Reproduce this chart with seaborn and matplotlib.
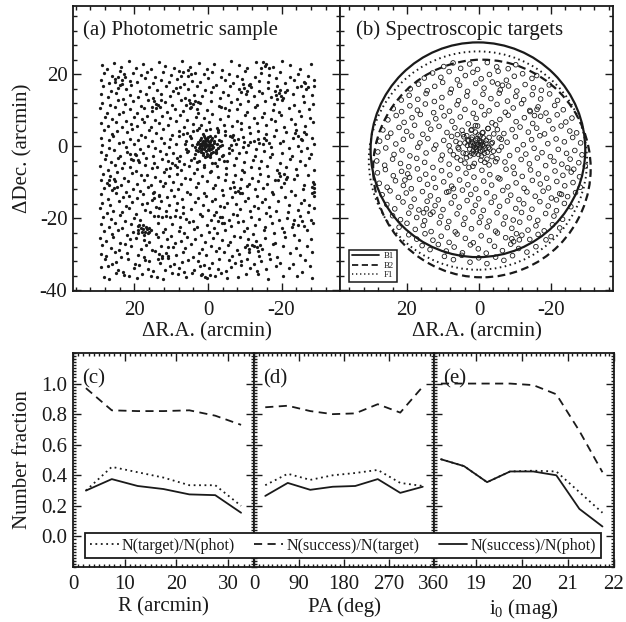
import numpy as np
import pandas as pd
import seaborn as sns
import matplotlib.pyplot as plt
import matplotlib.patches as mpatch
from matplotlib.lines import Line2D
from matplotlib.ticker import MultipleLocator, FormatStrFormatter

###############################
######### data ################
###############################

## (a) photometric sample, positions (arcmin)
phot_xy = [
    (28.4,-36.3),(26.9,-36.8),(25.1,-35.2),(22.8,-35.7),(21.6,-36.1),(19.3,-36.6),(17.9,-35.4),(15.4,-35.9),(13.8,-36.2),(12.1,-36.9),(9.7,-35.1),(8.2,-35.6),(5.9,-36.4),(4.4,-35.3),(1.8,-35.8),(0.3,-36.7),(-1.9,-36.0),(-3.6,-35.2),(-5.2,-36.5),(-8.1,-36.3),(-10.4,-35.6),(-13.7,-35.4),(-16.2,-36.8),(-20.5,-36.1),(-24.3,-35.9),(-28.2,-36.6),
    (29.0,-33.6),(27.3,-33.2),(24.6,-34.4),(23.1,-34.8),(20.2,-33.9),(18.7,-33.1),(16.3,-34.1),(14.9,-34.6),(11.6,-34.3),(10.3,-33.4),(7.8,-33.8),(6.5,-34.9),(3.9,-34.5),(2.2,-33.3),(-0.4,-33.7),(-2.7,-34.2),(-4.9,-34.7),(-6.3,-33.5),(-9.1,-33.0),(-11.5,-33.9),(-13.2,-34.6),(-15.8,-34.1),(-18.4,-33.4),(-21.9,-33.8),(-25.6,-34.8),(-27.7,-33.2),
    (28.1,-31.4),(26.2,-32.6),(24.9,-32.1),(21.7,-31.2),(19.8,-32.8),(17.2,-31.7),(16.0,-31.9),(13.1,-32.4),(12.4,-31.1),(9.2,-32.7),(7.1,-32.2),(5.3,-31.5),(2.8,-31.8),(1.1,-32.9),(-1.2,-32.3),(-3.1,-31.3),(-5.8,-31.6),(-7.4,-32.5),(-8.9,-32.0),(-10.7,-31.4),(-12.6,-32.8),(-14.3,-31.9),(-17.0,-31.2),(-19.6,-32.4),(-23.2,-32.6),(-26.4,-31.7),
    (29.2,-29.8),(27.8,-30.4),(25.4,-29.3),(23.6,-30.7),(22.1,-29.6),(19.0,-30.1),(17.5,-30.9),(14.4,-29.2),(13.2,-29.9),(11.0,-30.5),(8.6,-30.2),(6.9,-29.4),(4.1,-30.8),(2.5,-29.7),(0.6,-30.3),(-2.2,-29.1),(-4.3,-29.5),(-6.6,-30.6),(-8.4,-30.0),(-11.1,-29.3),(-13.9,-30.4),(-16.5,-29.8),(-18.8,-30.9),(-22.4,-29.6),(-25.1,-30.2),(-28.3,-29.4),
    (28.7,-27.4),(26.5,-28.2),(24.2,-28.7),(22.5,-27.1),(20.9,-27.8),(18.3,-28.5),(16.8,-27.3),(15.1,-28.9),(12.7,-27.6),(10.8,-28.1),(9.4,-27.9),(6.2,-28.4),(4.7,-27.2),(1.5,-28.6),(-0.7,-27.7),(-2.9,-28.3),(-5.5,-27.5),(-7.8,-28.8),(-10.1,-27.9),(-11.9,-27.4),(-13.4,-28.1),(-14.8,-28.6),(-17.7,-27.2),(-20.3,-27.8),(-23.8,-28.4),(-27.0,-27.6),
    (29.3,-25.6),(27.6,-26.3),(25.8,-25.2),(23.9,-26.8),(21.2,-25.9),(19.6,-25.4),(17.4,-26.1),(16.1,-26.6),(13.5,-25.1),(11.2,-25.7),(8.9,-26.9),(7.3,-26.2),(5.6,-25.3),(3.4,-25.8),(0.9,-26.5),(-1.4,-25.5),(-3.8,-26.0),(-6.0,-26.7),(-8.7,-25.2),(-10.9,-25.9),(-13.0,-26.4),(-15.6,-25.6),(-18.1,-26.8),(-21.0,-25.3),(-24.7,-26.1),(-27.9,-25.7),
    (28.2,-23.6),(26.0,-24.3),(24.5,-23.2),(22.0,-24.7),(20.4,-23.9),(18.9,-23.4),(17.6,-23.1),(17.0,-23.7),(16.4,-24.1),(15.5,-23.3),(18.2,-22.6),(16.9,-22.4),(14.0,-24.5),(12.2,-23.8),(10.0,-24.9),(8.0,-23.5),(6.4,-24.2),(3.7,-23.1),(1.9,-24.6),(-0.2,-23.7),(-2.4,-24.0),(-4.6,-23.3),(-7.1,-24.8),(-9.8,-23.6),(-12.3,-24.4),(-15.1,-23.2),(-17.9,-24.1),(-20.7,-23.9),(-23.5,-24.6),(-26.8,-23.4),
    (29.1,-21.7),(27.0,-22.4),(25.3,-21.2),(23.4,-22.8),(21.0,-21.5),(19.1,-22.1),(17.8,-21.8),(15.9,-22.6),(13.6,-21.3),(11.8,-22.9),(9.9,-21.6),(7.5,-22.3),(5.1,-21.1),(2.9,-22.5),(0.4,-21.9),(-1.6,-22.7),(-3.9,-21.4),(-6.2,-22.2),(-8.3,-21.0),(-10.6,-22.6),(-12.9,-21.8),(-15.4,-22.3),(-17.3,-21.2),(-20.1,-22.7),(-23.0,-21.6),(-26.2,-22.1),(-28.6,-21.4),
    (28.5,-19.6),(26.4,-20.3),(24.0,-19.2),(22.6,-20.8),(20.0,-19.9),(18.4,-20.5),(14.6,-19.5),(13.7,-19.4),(12.5,-19.6),(11.3,-19.5),(10.4,-19.7),(9.1,-19.4),(7.7,-19.6),(6.0,-20.2),(4.2,-20.9),(1.6,-19.3),(-0.8,-20.6),(-3.3,-19.8),(-5.7,-20.4),(-7.9,-19.1),(-9.5,-20.7),(-11.8,-19.7),(-14.0,-20.2),(-16.9,-19.3),(-19.3,-20.4),(-21.4,-20.0),(-24.9,-19.5),(-28.0,-20.6),
    (29.4,-17.3),(27.5,-18.6),(25.7,-17.9),(23.3,-18.2),(21.5,-17.1),(19.7,-18.8),(17.1,-17.6),(15.7,-18.4),(13.3,-17.2),(11.5,-18.0),(8.8,-17.7),(6.7,-18.5),(4.5,-17.4),(2.3,-18.9),(0.1,-17.8),(-2.1,-18.3),(-4.4,-17.0),(-6.9,-18.7),(-8.8,-17.5),(-11.3,-18.1),(-13.6,-17.3),(-15.9,-18.6),(-18.6,-17.9),(-21.7,-18.4),(-24.4,-17.6),(-27.3,-18.2),(-28.8,-17.1),
    (28.9,-15.8),(26.7,-16.4),(24.3,-15.2),(22.3,-16.7),(20.6,-15.5),(18.0,-16.1),(16.6,-15.9),(14.2,-16.8),(12.9,-15.3),(10.6,-16.2),(8.4,-15.7),(6.8,-16.9),(3.6,-15.4),(1.3,-16.3),(-1.1,-15.1),(-3.4,-16.6),(-5.3,-15.8),(-7.6,-16.0),(-10.2,-15.2),(-12.4,-16.5),(-14.7,-15.6),(-16.6,-16.9),(-19.0,-15.3),(-22.0,-16.2),(-25.3,-15.7),(-27.5,-16.4),
    (29.0,-13.4),(27.1,-14.7),(25.0,-13.1),(23.0,-14.2),(21.4,-13.8),(19.4,-14.5),(17.7,-13.3),(15.2,-14.9),(13.4,-13.6),(11.1,-14.1),(9.3,-13.9),(7.0,-14.6),(4.9,-13.2),(2.7,-14.3),(0.5,-13.7),(-1.8,-14.8),(-4.0,-13.5),(-6.4,-14.0),(-8.6,-13.1),(-10.8,-14.4),(-13.3,-13.8),(-15.5,-14.6),(-17.8,-13.4),(-20.9,-14.1),(-23.7,-13.6),(-26.1,-14.9),(-28.7,-13.9),
    (28.3,-11.6),(26.1,-12.3),(24.8,-11.2),(22.2,-12.8),(20.3,-11.9),(18.6,-12.4),(16.2,-11.4),(14.7,-12.7),(12.3,-11.1),(10.1,-12.1),(8.1,-11.8),(5.8,-12.6),(3.2,-11.3),(1.0,-12.9),(-1.3,-11.7),(-3.7,-12.2),(-6.1,-11.5),(-8.2,-12.5),(-10.5,-11.0),(-12.7,-12.0),(-15.0,-11.6),(-17.4,-12.8),(-19.9,-11.3),(-22.7,-12.4),(-25.9,-11.8),(-28.4,-11.2),(-28.9,-12.6),
    (29.2,-9.5),(27.4,-10.2),(25.6,-9.1),(23.7,-10.7),(21.8,-9.8),(19.2,-10.4),(17.3,-9.3),(15.6,-10.9),(13.0,-9.6),(11.7,-10.1),(9.6,-9.9),(7.2,-10.6),(5.0,-9.2),(2.6,-10.3),(0.2,-9.7),(-2.0,-10.8),(-4.5,-9.4),(-6.7,-10.0),(-9.0,-9.1),(-11.2,-10.5),(-13.5,-9.8),(-16.0,-10.6),(-18.3,-9.5),(-20.6,-10.2),(-23.3,-9.0),(-26.0,-10.7),(-28.5,-9.9),
    (28.6,-7.7),(26.6,-8.4),(24.7,-7.2),(22.9,-8.8),(20.7,-7.5),(18.2,-8.1),(16.5,-7.9),(14.3,-8.6),(11.9,-7.3),(10.5,-8.2),(8.5,-7.6),(6.3,-8.9),(3.8,-7.4),(1.7,-8.3),(-0.6,-7.1),(-2.8,-8.5),(-5.0,-7.8),(-7.3,-8.0),(-9.7,-7.2),(-12.0,-8.7),(-14.1,-7.6),(-16.4,-8.3),(-19.2,-7.4),(-21.6,-8.6),(-24.2,-7.9),(-27.1,-8.1),
    (29.3,-5.4),(27.2,-6.6),(25.2,-5.1),(23.5,-6.2),(21.1,-5.7),(19.5,-6.8),(17.0,-5.3),(15.3,-6.1),(13.9,-5.9),(11.4,-6.4),(9.0,-5.2),(7.4,-6.7),(5.2,-5.6),(3.0,-6.3),(1.2,-5.8),(-0.9,-6.9),(-2.5,-5.5),(-4.8,-6.0),(-7.0,-5.1),(-9.2,-6.5),(-11.6,-5.7),(-13.8,-6.2),(-16.1,-5.4),(-18.9,-6.6),(-21.3,-5.9),(-23.9,-6.3),(-26.5,-5.2),(-28.8,-6.7),
    (28.0,-3.6),(26.3,-4.3),(24.4,-3.2),(22.7,-4.8),(20.5,-3.9),(18.8,-4.4),(16.9,-3.3),(14.8,-4.6),(12.6,-3.7),(10.9,-4.1),(8.3,-3.4),(6.6,-4.9),(4.6,-3.8),(2.4,-4.2),(0.8,-3.1),(-1.0,-4.7),(-3.0,-3.5),(-5.1,-4.0),(-7.5,-3.3),(-9.9,-4.5),(-12.2,-3.8),(-14.5,-4.2),(-16.8,-3.0),(-19.5,-4.6),(-22.3,-3.7),(-25.0,-4.1),(-27.6,-3.4),
    (29.1,-1.7),(27.7,-2.4),(25.5,-1.2),(23.8,-2.8),(21.9,-1.5),(19.9,-2.2),(17.6,-1.9),(15.0,-2.6),(13.1,-1.3),(11.3,-2.1),(9.5,-1.8),(7.6,-2.7),(5.5,-1.4),(3.5,-2.3),(-0.5,-2.9),(-2.3,-1.6),(-4.2,-2.5),(-6.5,-1.1),(-8.5,-2.0),(-10.3,-1.7),(-12.8,-2.6),(-15.2,-1.4),(-17.5,-2.2),(-20.2,-1.9),(-22.8,-2.7),(-25.4,-1.3),(-28.1,-2.1),
    (28.8,0.3),(26.8,-0.6),(24.1,0.8),(22.4,-0.3),(20.1,0.5),(18.5,-0.8),(16.4,0.1),(14.5,-0.4),(12.0,0.9),(10.7,-0.1),(8.7,0.6),(6.0,-0.7),(4.3,0.2),(-3.9,0.4),(-5.6,-0.5),(-7.7,0.7),(-9.4,-0.2),(-11.0,0.3),(-13.1,-0.9),(-14.9,0.6),(-17.2,-0.3),(-19.7,0.8),(-22.1,-0.6),(-24.6,0.1),(-26.9,-0.4),(-28.9,0.5),
    (29.0,2.4),(27.0,1.6),(25.9,2.8),(23.2,1.2),(21.3,2.1),(19.0,1.7),(17.1,2.6),(15.1,1.3),(12.8,2.3),(10.4,1.9),(8.0,2.7),(6.1,1.4),(4.5,2.2),(-3.6,1.5),(-5.9,2.9),(-7.2,1.8),(-9.6,2.5),(-11.4,1.1),(-13.7,2.0),(-15.7,1.6),(-18.0,2.8),(-20.4,1.3),(-23.1,2.4),(-25.7,1.7),(-28.2,2.2),
    (28.4,4.6),(26.2,3.3),(24.7,4.2),(22.1,3.8),(20.6,4.9),(18.3,3.1),(16.0,4.4),(14.1,3.6),(12.2,4.8),(9.8,3.2),(7.9,4.1),(5.7,3.7),(3.1,4.5),(1.4,3.4),(-0.6,4.7),(-2.6,3.9),(-4.7,4.3),(-6.8,3.2),(-9.0,4.8),(-11.3,3.6),(-13.6,4.1),(-15.9,3.3),(-18.5,4.6),(-21.2,3.9),(-24.0,4.4),(-26.7,3.5),
    (29.2,6.3),(27.3,5.5),(25.0,6.8),(23.4,5.2),(21.0,6.1),(19.2,5.7),(17.3,6.6),(15.4,5.3),(13.3,6.4),(11.0,5.9),(8.6,6.9),(6.4,5.4),(4.0,6.2),(2.0,5.8),(-0.2,6.7),(-2.4,5.1),(-4.4,6.0),(-6.6,5.6),(-8.9,6.5),(-11.2,5.3),(-13.4,6.3),(-15.8,5.8),(-18.2,6.9),(-20.8,5.4),(-23.6,6.1),(-26.3,5.7),(-28.6,6.6),
    (28.1,8.2),(26.0,7.4),(24.2,8.8),(22.3,7.1),(20.2,8.0),(18.0,7.6),(16.7,8.5),(14.4,7.3),(12.5,8.4),(10.2,7.9),(7.7,8.7),(5.6,7.2),(3.3,8.1),(1.1,7.7),(-1.0,8.9),(-3.2,7.5),(-5.4,8.3),(-7.9,7.0),(-10.1,8.6),(-12.5,7.8),(-14.8,8.2),(-17.1,7.4),(-19.8,8.7),(-22.5,7.6),(-25.2,8.4),(-27.8,7.9),
    (29.3,10.5),(27.5,9.3),(25.4,10.8),(23.1,9.6),(21.2,10.2),(19.3,9.1),(17.5,10.6),(15.2,9.8),(13.0,10.9),(11.2,9.4),(9.1,10.3),(6.9,9.7),(4.8,10.7),(2.6,9.2),(0.3,10.1),(-4.6,10.6),(-5.8,9.9),(-3.5,11.0),(-8.0,10.4),(-10.6,9.5),(-12.9,10.8),(-15.3,9.2),(-17.6,10.0),(-19.4,9.6),(-22.0,10.5),(-24.8,9.8),(-27.4,10.3),
    (28.7,12.1),(26.6,11.3),(24.5,12.7),(22.6,11.6),(20.4,12.4),(18.1,11.2),(16.3,12.9),(14.2,11.8),(11.8,12.3),(9.7,11.5),(7.3,12.8),(5.9,11.4),(4.9,12.1),(4.2,11.7),(3.6,12.6),(2.1,11.9),(-0.7,12.5),(-2.9,11.1),(-6.2,12.2),(-8.6,11.8),(-10.9,12.6),(-13.2,11.3),(-15.6,12.4),(-17.9,11.6),(-20.1,12.9),(-23.4,11.5),(-26.0,12.2),(-28.5,11.8),
    (29.1,14.4),(27.2,13.6),(25.1,14.8),(23.0,13.2),(21.1,14.1),(19.1,13.7),(16.9,14.6),(14.9,13.4),(12.7,14.5),(10.3,13.9),(8.2,14.7),(6.2,13.3),(3.9,14.2),(1.6,13.8),(-0.9,14.9),(-3.3,13.5),(-5.5,14.3),(-7.8,13.1),(-10.3,14.4),(-12.6,13.9),(-14.6,14.7),(-17.2,13.6),(-18.6,14.2),(-19.2,14.8),(-19.8,14.0),(-20.5,13.4),(-23.2,14.5),(-25.8,13.8),(-28.3,14.1),
    (28.5,16.6),(26.4,15.3),(24.6,16.2),(22.4,15.8),(20.8,16.9),(18.6,15.4),(16.1,16.3),(13.8,15.7),(11.5,16.8),(9.4,15.2),(7.6,16.5),(8.7,16.1),(5.3,15.9),(2.9,16.7),(0.7,15.5),(-1.5,16.4),(-4.0,15.1),(-6.1,16.6),(-8.4,15.8),(-9.9,16.2),(-11.1,16.9),(-13.9,15.4),(-16.3,16.1),(-18.8,16.7),(-21.5,15.6),(-24.1,16.3),(-26.6,15.9),(-28.8,16.8),
    (29.0,18.3),(27.0,17.5),(25.3,18.7),(23.3,17.2),(21.2,18.1),(19.4,17.7),(17.2,18.9),(15.0,17.4),(12.9,18.5),(10.6,17.9),(8.4,18.6),(6.5,17.3),(4.4,18.2),(2.2,17.8),(-0.1,18.8),(-2.3,17.1),(-4.6,18.4),(-6.9,17.6),(-9.2,18.7),(-11.5,17.3),(-13.9,18.2),(-16.2,17.8),(-18.4,18.9),(-20.9,17.4),(-23.5,18.3),(-26.2,17.7),(-28.7,18.5),
    (28.3,20.4),(26.1,19.6),(24.0,20.8),(22.5,19.3),(20.5,20.2),(18.2,19.8),(16.6,20.6),(14.3,19.1),(12.1,20.5),(10.0,19.7),(7.8,20.9),(5.5,19.4),(3.4,20.3),(1.0,19.9),(-1.2,20.7),(-3.5,19.2),(-5.7,20.1),(-7.8,19.5),(-10.2,20.8),(-12.7,19.3),(-14.4,20.4),(-16.7,19.7),(-19.5,20.6),(-22.2,19.1),(-24.6,20.0),(-27.3,19.6),
    (28.9,22.6),(27.4,21.4),(25.6,23.2),(23.7,22.1),(21.6,23.6),(19.5,21.7),(17.8,22.9),(15.6,21.3),(13.4,23.4),(11.6,22.3),(9.2,21.8),(7.0,23.7),(4.9,22.0),(2.5,23.1),(0.4,21.5),(-1.7,22.8),(-3.9,21.2),(-6.3,23.5),(-8.5,22.4),(-10.7,21.6),(-13.0,23.3),(-15.4,22.2),(-17.7,21.9),(-20.0,23.6),(-22.4,22.5),(-25.1,21.3),(-28.0,22.7),
]

## (a) small groups and the halo round the centre
phot_clumps = [
    (24.6,19.3),(23.5,18.4),(25.2,17.8),(22.9,19.9),(24.0,17.1),(14.8,12.6),(13.6,11.4),(15.3,11.0),(12.9,12.9),(14.2,10.6),
    (4.6,10.8),(3.0,10.4),(5.2,12.9),(2.7,12.2),(-18.2,15.3),(-19.6,15.6),(-20.9,14.9),(-18.9,13.2),(-10.6,15.4),(-9.4,17.2),
    (-11.8,16.3),(-8.9,15.1),(-24.6,2.9),(-26.0,3.8),(-25.3,1.9),(-23.7,3.6),(-12.6,1.5),(-13.8,0.9),(-15.2,2.2),(-16.5,1.0),
    (-8.3,1.9),(-9.9,1.2),(-6.2,0.4),(4.8,2.9),(5.6,-1.6),(3.9,-3.4),(-3.9,-2.6),(-4.6,3.2),(2.4,5.0),(-1.8,-4.8),
    (1.1,-5.2),(6.3,0.6),(-5.8,-1.8),(3.3,-1.1),(-2.7,4.6),(4.1,4.3),(-4.4,-4.1),(6.8,3.5),(-6.5,2.6),(0.6,4.4),
    (2.9,-4.3),(17.9,-23.9),(16.6,-22.9),(18.7,-22.0),(17.3,-24.6),(15.9,-23.8),(19.0,-24.2),(-12.6,-27.8),(-11.2,-28.6),(-13.5,-29.2),
    (-10.5,-27.3),(-14.2,-27.5),(-28.7,-10.5),(-28.4,-12.9),(-28.9,-11.6),(19.6,-2.5),(20.8,-3.6),(21.3,-2.1),(18.9,-3.9),(8.4,-5.8),
    (9.7,-4.6),(10.3,-6.1),(8.0,-4.2),(-8.6,-11.6),(-7.4,-12.7),(-9.3,-13.1),(-7.0,-11.2),(-19.5,-8.3),(-20.8,-7.6),(-21.2,-9.1),
    (-19.0,-9.4),(12.6,-30.4),(11.3,-29.6),(13.5,-31.2),(10.9,-31.0),(-2.6,-20.9),(-3.9,-19.6),(-1.7,-19.2),(-4.3,-21.4),(26.8,-10.8),
    (25.3,-9.6),(27.0,-9.3),(25.6,-11.5),(6.9,20.5),(5.4,21.2),(7.4,19.6),(4.6,20.0),(-15.8,22.9),(-14.3,21.6),(-16.6,21.7),
    (-14.9,23.3),(-24.6,-21.8),(-23.3,-20.6),(-25.5,-20.9),(-22.8,-22.3),(14.6,-14.3),(13.2,-13.7),(15.0,-13.0),(-26.4,17.6),(-25.3,16.6),
    (-27.2,16.4),(0.9,-36.3),(-0.6,-35.8),(1.5,-35.5),
]

## (a) the dense clump at the centre
phot_core = [
    (0.2,0.4),(-0.5,1.1),(0.9,-0.3),(1.6,0.8),(-1.2,0.2),(0.4,1.9),(-0.8,-0.9),(1.3,1.5),(2.2,0.1),(-1.7,1.3),(0.6,-1.4),(-0.2,-0.4),(1.9,-1.0),(-2.4,0.6),(2.8,1.2),
    (0.0,2.6),(-1.0,2.2),(1.1,0.3),(-0.4,0.7),(0.7,1.0),(-1.5,-0.3),(2.5,-0.5),(-2.1,-1.1),(0.3,-2.1),(1.4,-1.8),(-0.6,-2.4),(3.1,0.5),(-2.9,1.8),(1.8,2.2),(-0.9,1.6),
    (0.5,0.0),(-0.1,1.4),(1.0,-0.8),(-1.3,-1.7),(2.3,1.7),(-1.9,2.7),(0.8,2.4),(-0.3,-1.2),(1.5,0.2),(-0.7,0.4),(2.0,-1.6),(-2.6,-0.6),(0.1,-0.8),(1.2,2.9),(-1.6,0.9),
    (0.9,1.3),(-0.2,0.1),(0.6,0.6),(-1.1,-0.5),(1.7,-0.4),(2.7,-1.3),(-2.2,-2.0),(0.4,-2.8),(-0.5,2.9),(3.4,-0.2),(-3.2,0.1),(1.3,-2.5),(0.2,1.7),(-0.9,-1.9),(2.1,0.7),
]

## (b) spectroscopic targets
spec_xy = [
    (9.8,22.1),(7.2,23.1),(5.1,21.6),(2.6,22.8),(0.4,21.3),(-2.3,23.2),(-4.9,22.0),(-8.1,21.5),(-10.2,22.6),
    (15.2,18.9),(12.9,20.3),(10.6,19.1),(8.3,20.7),(6.0,18.4),(3.8,19.6),(1.7,20.5),(-0.6,18.7),(-2.9,19.9),(-5.3,20.8),(-7.6,18.3),(-9.8,19.4),(-12.1,20.1),(-14.7,18.8),(-16.0,19.6),
    (19.1,15.9),(16.8,17.2),(14.4,15.4),(12.3,16.6),(10.1,17.7),(7.7,15.8),(5.4,16.9),(3.2,15.2),(0.9,17.4),(-1.4,16.1),(-3.7,17.8),(-5.9,15.6),(-8.2,16.7),(-10.5,15.3),(-12.8,17.1),(-15.1,16.2),(-17.3,15.5),(-19.5,17.0),
    (21.6,12.8),(19.4,14.1),(17.0,13.0),(14.7,14.6),(12.4,12.4),(10.3,13.5),(8.0,14.8),(5.7,12.6),(3.4,13.9),(1.2,12.2),(-1.1,14.4),(-3.3,13.2),(-5.6,14.7),(-7.9,12.5),(-10.2,13.8),(-12.4,12.9),(-14.8,14.3),(-17.1,13.1),(-19.6,14.5),(-21.8,12.7),
    (23.8,10.4),(21.5,9.6),(19.2,11.2),(17.1,10.0),(14.9,11.7),(12.6,9.3),(10.4,10.8),(8.2,9.7),(6.1,11.5),(3.9,10.2),(1.6,9.1),(-0.7,11.0),(-2.8,9.8),(-5.0,11.6),(-7.3,9.4),(-9.5,10.6),(-11.8,11.8),(-14.1,9.9),(-16.4,10.9),(-18.6,9.2),(-21.0,11.3),(-23.4,10.1),
    (25.3,7.3),(23.0,8.5),(20.8,6.6),(18.6,7.9),(16.3,8.8),(14.2,6.4),(12.0,7.6),(9.7,8.4),(7.5,6.9),(5.2,8.1),(3.0,6.2),(0.8,7.7),(-1.5,8.7),(-3.6,6.5),(-5.8,7.4),(-8.1,8.6),(-10.3,6.8),(-12.6,7.9),(-14.9,6.3),(-17.1,8.3),(-19.4,7.1),(-21.7,8.7),(-24.1,6.7),(-25.8,7.8),
    (26.7,4.5),(24.5,3.6),(22.2,5.2),(20.1,4.1),(17.9,5.8),(15.6,3.3),(13.4,4.7),(11.1,5.5),(8.9,3.8),(6.7,5.1),(4.4,3.2),(2.2,4.4),(1.0,5.7),(-0.9,3.7),(-2.5,4.9),(-4.6,5.9),(-6.9,3.5),(-9.2,4.6),(-11.4,5.3),(-13.7,3.9),(-16.0,5.0),(-18.2,3.4),(-20.5,4.8),(-22.8,5.6),(-25.2,4.2),(-27.1,3.7),
    (27.6,1.4),(25.4,2.5),(23.1,0.6),(21.0,1.9),(18.7,2.8),(16.4,0.9),(14.2,2.1),(12.0,0.3),(9.8,1.6),(7.6,2.7),(5.3,0.8),(3.1,1.7),(-3.4,0.7),(-5.6,2.3),(-7.8,1.1),(-10.1,2.6),(-12.3,0.4),(-14.6,1.8),(-16.9,2.9),(-19.1,0.7),(-21.4,2.0),(-23.7,1.2),(-26.0,2.4),(-28.2,0.9),
    (28.1,-1.6),(25.9,-0.5),(23.6,-2.3),(21.4,-1.1),(19.2,-2.7),(17.0,-0.3),(14.7,-1.9),(12.5,-0.8),(10.2,-2.5),(8.0,-1.3),(5.8,-0.4),(3.6,-2.1),(-4.0,-1.4),(-6.2,-0.2),(-8.5,-2.6),(-10.7,-1.0),(-13.0,-2.2),(-15.3,-0.6),(-17.5,-1.8),(-19.8,-2.9),(-22.0,-0.9),(-24.3,-2.0),(-26.6,-1.2),(-28.6,-2.4),
    (28.4,-4.1),(26.2,-5.3),(24.0,-3.6),(21.8,-4.8),(19.5,-5.7),(17.3,-3.4),(15.1,-4.5),(12.8,-5.9),(10.6,-3.8),(8.3,-5.0),(6.1,-3.2),(3.9,-4.7),(1.7,-5.6),(-0.5,-3.9),(-2.8,-5.2),(-5.0,-3.5),(-7.2,-4.4),(-9.5,-5.8),(-11.7,-3.7),(-14.0,-4.9),(-16.2,-3.3),(-18.5,-5.4),(-20.8,-4.2),(-23.0,-5.0),(-25.3,-3.6),(-27.7,-4.6),(-29.5,-5.5),
    (28.2,-7.4),(26.0,-6.5),(23.8,-8.2),(21.5,-7.0),(19.3,-8.7),(17.1,-6.3),(14.8,-7.8),(12.6,-8.9),(10.4,-6.8),(8.1,-8.0),(5.9,-6.2),(3.6,-7.5),(1.4,-8.6),(-0.8,-6.7),(-3.0,-7.9),(-5.3,-8.8),(-7.5,-6.4),(-9.8,-7.6),(-12.0,-8.4),(-14.3,-6.6),(-16.5,-7.7),(-18.8,-8.9),(-21.1,-6.9),(-23.3,-8.1),(-25.6,-7.2),(-27.9,-8.5),
    (27.7,-10.3),(25.5,-11.4),(23.2,-9.6),(21.0,-10.9),(18.8,-11.8),(16.5,-9.2),(14.3,-10.6),(12.1,-11.5),(9.8,-9.9),(7.6,-11.1),(5.4,-9.4),(3.1,-10.7),(0.9,-11.9),(-1.3,-9.7),(-3.5,-10.8),(-5.8,-9.1),(-8.0,-11.3),(-10.3,-10.2),(-12.5,-11.7),(-14.8,-9.5),(-17.0,-10.5),(-19.3,-11.6),(-21.6,-9.8),(-23.8,-11.0),(-26.1,-10.1),(-28.1,-11.4),
    (26.9,-13.5),(24.7,-12.4),(22.4,-14.2),(20.2,-13.0),(18.0,-14.7),(15.7,-12.6),(13.5,-13.8),(11.3,-14.9),(9.0,-12.8),(6.8,-14.0),(4.6,-12.2),(2.3,-13.4),(0.1,-14.6),(-2.1,-12.9),(-4.3,-14.1),(-6.6,-12.3),(-8.8,-13.6),(-11.1,-14.8),(-13.3,-12.7),(-15.6,-13.9),(-17.8,-12.5),(-20.1,-14.4),(-22.4,-13.2),(-24.6,-14.0),(-26.8,-12.9),
    (25.6,-16.2),(23.4,-17.4),(21.1,-15.5),(18.9,-16.8),(16.7,-17.7),(14.4,-15.3),(12.2,-16.5),(10.0,-17.6),(7.7,-15.8),(5.5,-16.9),(3.3,-15.1),(1.0,-16.4),(-1.2,-17.8),(-3.4,-15.6),(-5.7,-16.7),(-7.9,-15.2),(-10.2,-17.3),(-12.4,-16.0),(-14.7,-17.5),(-16.9,-15.4),(-19.2,-16.6),(-21.5,-17.9),(-23.7,-15.9),(-25.5,-16.8),
    (24.0,-19.3),(21.8,-20.4),(19.5,-18.6),(17.3,-19.8),(15.1,-20.7),(12.8,-18.3),(10.6,-19.5),(8.4,-20.9),(6.1,-18.8),(3.9,-20.0),(1.7,-18.2),(-0.5,-19.6),(-2.8,-20.8),(-5.0,-18.5),(-7.3,-19.7),(-9.5,-20.5),(-11.8,-18.4),(-14.0,-19.9),(-16.3,-20.6),(-18.5,-18.7),(-20.8,-19.4),(-23.2,-20.3),
    (22.2,-22.5),(20.0,-21.4),(17.7,-23.1),(15.5,-22.0),(13.3,-23.7),(11.0,-21.3),(8.8,-22.6),(6.6,-23.8),(4.3,-21.7),(2.1,-22.9),(-0.1,-21.2),(-2.3,-22.4),(-4.6,-23.6),(-6.8,-21.6),(-9.1,-22.8),(-11.3,-21.1),(-13.6,-23.3),(-15.8,-22.1),(-18.1,-23.5),(-20.4,-21.8),(-22.4,-22.7),
    (19.5,-24.6),(17.3,-25.8),(15.0,-24.3),(12.8,-26.1),(10.5,-25.0),(8.3,-26.7),(6.1,-24.4),(3.8,-25.6),(1.6,-26.8),(-0.6,-24.9),(-2.9,-26.2),(-5.1,-24.1),(-7.4,-25.4),(-9.6,-26.5),(-11.9,-24.7),(-14.1,-25.9),(-16.4,-24.5),(-18.6,-26.0),(-20.0,-25.1),
    (15.8,-27.6),(13.6,-28.7),(11.3,-27.3),(9.1,-29.1),(6.9,-28.0),(4.6,-29.6),(2.4,-27.4),(0.2,-28.5),(-2.0,-29.7),(-4.3,-27.8),(-6.5,-29.0),(-8.8,-27.2),(-11.0,-28.4),(-13.3,-29.4),(-15.8,-27.9),
    (9.6,-30.6),(7.1,-31.5),(4.8,-30.3),(2.5,-32.2),(0.1,-31.0),(-2.2,-32.6),(-4.6,-30.8),(-6.9,-31.7),(-9.3,-30.4),
]

## (b) halo round the centre and small groups
spec_extra = [
    (4.2,2.6),(5.6,-0.8),(3.5,-3.2),(-3.6,-2.9),(-4.1,3.4),(2.0,4.6),(-1.6,-4.5),(1.3,-4.8),(6.4,1.3),(-5.5,-1.2),
    (3.9,0.9),(-2.5,4.9),(4.7,4.4),(-4.6,-4.3),(7.1,-2.4),(-6.2,1.9),(0.4,5.6),(2.8,-5.9),(8.3,0.1),(5.1,-3.9),
    (-3.0,-0.8),(3.4,2.9),(-2.2,-3.6),(2.5,-2.7),(1.0,3.9),(-1.1,3.8),(-3.7,1.0),(4.4,-1.9),(6.0,3.2),(-5.1,4.6),
    (-15.4,8.5),(-14.2,9.6),(-16.1,10.2),(13.5,-18.9),(14.6,-17.4),(15.4,-18.5),(-10.4,-24.3),(-9.1,-25.7),(-11.2,-26.0),(20.6,-9.4),
    (19.8,-7.7),(-21.5,-14.9),(-22.9,-13.4),(8.4,-12.6),(7.1,-11.8),(-6.5,16.9),(-5.2,17.3),(-26.3,-6.4),(-24.6,-6.0),
]

spec_core = [
    (0.3,0.5),(-0.6,1.2),(1.1,-0.4),(1.8,1.0),(-1.4,0.1),(0.5,2.1),(-1.0,-1.1),(2.3,0.3),(-2.0,1.6),(0.8,-1.6),
    (-0.2,-0.5),(1.6,-1.3),(-2.6,-0.4),(2.9,1.5),(-0.3,2.8),(-1.2,2.3),(1.2,0.6),(-0.5,0.9),(0.9,1.6),(-1.7,-0.6),
    (2.6,-0.8),(-2.3,-1.7),(0.1,-2.3),(1.4,-2.2),(-0.7,-2.7),(3.2,0.2),(-2.8,2.4),(1.9,2.5),(0.6,0.0),(-0.1,1.5),
    (-1.5,-2.0),(2.1,1.9),(-0.4,-1.4),(1.5,0.2),(-0.9,0.4),(2.0,-2.0),(0.2,3.1),(-1.9,0.8),(0.7,-0.9),(-0.3,0.2),
]

## fields of view of the three masks
fov_name = ['B1', 'B2', 'F1']
fov_x = [0.3, -0.8, 0.3]
fov_y = [-1.0, -6.2, -4.0]
fov_r = [29.8, 30.2, 30.3]

## number fractions
r_bin = [2.5, 7.5, 12.5, 17.5, 22.5, 27.5, 32.5]
r_targ_phot = [0.30, 0.455, 0.42, 0.385, 0.335, 0.335, 0.20]
r_succ_targ = [0.97, 0.825, 0.82, 0.82, 0.825, 0.79, 0.73]
r_succ_phot = [0.30, 0.375, 0.33, 0.31, 0.275, 0.27, 0.155]

pa_bin = [22.5, 67.5, 112.5, 157.5, 202.5, 247.5, 292.5, 337.5]
pa_targ_phot = [0.335, 0.41, 0.37, 0.40, 0.415, 0.435, 0.35, 0.33]
pa_succ_targ = [0.845, 0.855, 0.82, 0.80, 0.805, 0.865, 0.81, 0.98]
pa_succ_phot = [0.265, 0.35, 0.305, 0.325, 0.33, 0.375, 0.285, 0.325]

mag_bin = [18.25, 18.75, 19.25, 19.75, 20.25, 20.75, 21.25, 21.75]
mag_targ_phot = [0.505, 0.46, 0.355, 0.425, 0.43, 0.425, 0.29, 0.155]
mag_succ_targ = [1.0, 1.0, 1.0, 1.0, 0.99, 0.93, 0.69, 0.42]
mag_succ_phot = [0.505, 0.46, 0.355, 0.425, 0.425, 0.40, 0.18, 0.065]

legend_labels = ['N(target)/N(phot)', 'N(success)/N(target)', 'N(success)/N(phot)']

###############################
############ plot #############
###############################
sns.set_theme(style='ticks', rc={'axes.edgecolor': 'k', 'text.color': 'k',
                                 'axes.labelcolor': 'k', 'xtick.color': 'k',
                                 'ytick.color': 'k'})
plt.rcParams['font.family'] = ['Liberation Serif', 'DejaVu Serif']
plt.rcParams['mathtext.fontset'] = 'custom'
plt.rcParams['mathtext.rm'] = 'Liberation Serif'
plt.rcParams['mathtext.it'] = 'Liberation Serif:italic'
plt.rcParams['axes.unicode_minus'] = False

FS = 15
W, H = 626, 622

def px_axes(left, top, right, bottom):
    return fig.add_axes([left / W, 1 - bottom / H, (right - left) / W, (bottom - top) / H])

def style(ax, maj_len=5.5, min_len=2.8):
    ax.tick_params(which='both', direction='in', top=True, right=True,
                   width=1.0, labelsize=FS)
    ax.tick_params(which='major', length=maj_len)
    ax.tick_params(which='minor', length=min_len)
    for sp in ax.spines.values():
        sp.set_linewidth(1.3)
        sp.set_color('k')

fig = plt.figure(figsize=(W / 100, H / 100), dpi=100)

ax_a = px_axes(73, 6, 340, 291)
ax_b = px_axes(340, 6, 613, 291)
ax_c = px_axes(73, 353, 254, 567)
ax_d = px_axes(254, 353, 434, 567)
ax_e = px_axes(434, 353, 614, 567)

## (a) photometric sample
phot = pd.DataFrame(phot_xy + phot_clumps + phot_core, columns=['ra', 'dec'])
sns.scatterplot(data=phot, x='ra', y='dec', ax=ax_a, color='k', s=5.5,
                marker='o', linewidth=0)

## (b) spectroscopic targets
spec = pd.DataFrame(spec_xy + spec_extra + spec_core, columns=['ra', 'dec'])
sns.scatterplot(data=spec, x='ra', y='dec', ax=ax_b, facecolor='none',
                edgecolor='k', s=11, marker='o', linewidth=0.6)

fov_style = {'B1': dict(ls='-', lw=1.6),
             'B2': dict(ls=(0, (3.5, 2.0)), lw=1.6),
             'F1': dict(ls=(0, (0.8, 1.8)), lw=1.4)}
fov_handles = []
for name, cx, cy, rr in zip(fov_name, fov_x, fov_y, fov_r):
    st = fov_style[name]
    ax_b.add_patch(mpatch.Circle((cx, cy), rr, fill=False, edgecolor='k',
                                 linestyle=st['ls'], linewidth=st['lw'], zorder=3))
    fov_handles.append(Line2D([], [], color='k', linestyle=st['ls'],
                              linewidth=st['lw'] * 0.8, label=name))

leg_b = ax_b.legend(handles=fov_handles, loc='lower left', bbox_to_anchor=(0.033, 0.032),
                    borderaxespad=0, fontsize=6.3, handlelength=3.1, handletextpad=0.6,
                    labelspacing=0.15, borderpad=0.3, fancybox=False, framealpha=1,
                    edgecolor='k')
leg_b.get_frame().set_linewidth(1.1)

for ax, xl in [(ax_a, (36.7, -35.9)), (ax_b, (38.6, -37.2))]:
    ax.set_xlim(*xl)
    ax.set_ylim(-40.2, 38.9)
    ax.xaxis.set_major_locator(MultipleLocator(20))
    ax.xaxis.set_minor_locator(MultipleLocator(4))
    ax.yaxis.set_major_locator(MultipleLocator(20))
    ax.yaxis.set_minor_locator(MultipleLocator(4))
    style(ax)
    ax.tick_params(axis='x', pad=7)
    ax.tick_params(axis='y', pad=4)
    ax.set_xlabel('ΔR.A. (arcmin)', fontsize=FS, labelpad=2)
    ax.set_ylabel('')

ax_a.set_ylabel('ΔDec. (arcmin)', fontsize=FS)
ax_a.yaxis.set_label_coords((32 - 73) / 267, 0.5)
ax_b.tick_params(axis='y', labelleft=False)

ax_a.text(0.037, 0.95, '(a) Photometric sample', transform=ax_a.transAxes,
          fontsize=FS, va='top', ha='left')
ax_b.text(0.059, 0.95, '(b) Spectroscopic targets', transform=ax_b.transAxes,
          fontsize=FS, va='top', ha='left')

## (c)-(e) number fractions
dot = (0, (1.0, 2.0))
dash = (0, (4.5, 3.0))
lw = 1.3

panels = [
    (ax_c, r_bin, r_targ_phot, r_succ_targ, r_succ_phot, '(c)', 'R (arcmin)'),
    (ax_d, pa_bin, pa_targ_phot, pa_succ_targ, pa_succ_phot, '(d)', 'PA (deg)'),
    (ax_e, mag_bin, mag_targ_phot, mag_succ_targ, mag_succ_phot, '(e)', r'i$_{\mathrm{0}}$ (mag)'),
]
for ax, xb, tp, st_, sp_, tag, xlab in panels:
    sns.lineplot(x=xb, y=tp, ax=ax, color='k', linestyle=dot, linewidth=lw)
    sns.lineplot(x=xb, y=st_, ax=ax, color='k', linestyle=dash, linewidth=lw)
    sns.lineplot(x=xb, y=sp_, ax=ax, color='k', linestyle='-', linewidth=lw)
    ax.set_ylim(-0.2, 1.2)
    ax.set_yticks([0.0, 0.2, 0.4, 0.6, 0.8, 1.0])
    ax.yaxis.set_minor_locator(MultipleLocator(0.02))
    ax.yaxis.set_major_formatter(FormatStrFormatter('%.1f'))
    style(ax, maj_len=5.5, min_len=2.5)
    ax.tick_params(axis='x', pad=6)
    ax.tick_params(axis='y', pad=4)
    ax.set_xlabel(xlab, fontsize=FS, labelpad=2)
    ax.text(0.05, 0.925, tag, transform=ax.transAxes, fontsize=FS, va='top', ha='left')

ax_c.set_xlim(0, 35)
ax_c.set_xticks([0, 10, 20, 30])
ax_c.xaxis.set_minor_locator(MultipleLocator(1))
ax_d.set_xlim(0, 360)
ax_d.set_xticks([0, 90, 180, 270, 360])
ax_d.xaxis.set_minor_locator(MultipleLocator(9))
ax_e.set_xlim(18.1, 22.0)
ax_e.set_xticks([19, 20, 21, 22])
ax_e.xaxis.set_minor_locator(MultipleLocator(0.1))

ax_c.set_ylabel('Number fraction', fontsize=FS)
ax_c.yaxis.set_label_coords((32 - 73) / 181, 0.5)
for ax in (ax_d, ax_e):
    ax.set_ylabel('')
    ax.tick_params(axis='y', labelleft=False)

handles = [Line2D([], [], color='k', linestyle=dot, linewidth=lw),
           Line2D([], [], color='k', linestyle=dash, linewidth=lw),
           Line2D([], [], color='k', linestyle='-', linewidth=lw)]
leg = fig.legend(handles, legend_labels, loc='center', ncol=3,
                 bbox_to_anchor=(343 / W, 1 - 545.5 / H), fontsize=11.5,
                 handlelength=1.8, handletextpad=0.2, columnspacing=1.2,
                 borderpad=0.3, fancybox=False, framealpha=1, edgecolor='k')
leg.get_frame().set_linewidth(1.3)
leg.set_zorder(10)

fig.savefig('out.png', dpi=100)
